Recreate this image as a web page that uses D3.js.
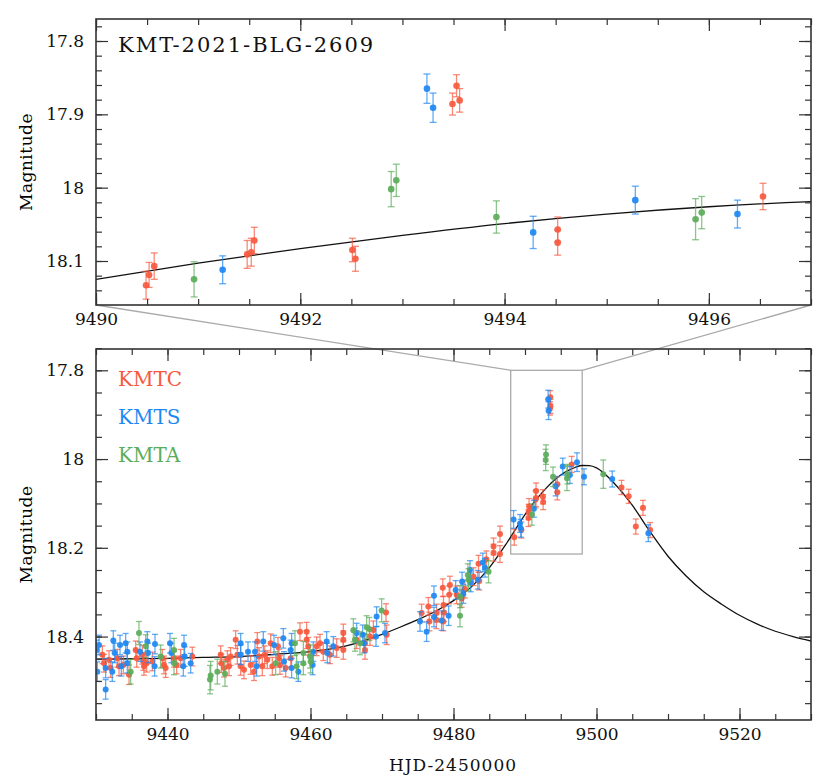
<!DOCTYPE html>
<html>
<head>
<meta charset="utf-8">
<script src="https://cdn.jsdelivr.net/npm/d3@7"></script>
<style>
  body { margin: 0; background: #fff; }
  text { font-family: "DejaVu Serif", "Liberation Serif", serif; }
</style>
</head>
<body>
<div id="chart"></div>
<script>
// data: [HJD-2450000, magnitude, error]
const kmtc = [
  [9430.89,18.441,.02],[9431.12,18.460,.02],[9431.82,18.452,.02],[9432.05,18.471,.021],[9432.98,18.449,.02],
  [9433.22,18.467,.021],[9433.82,18.464,.02],[9434.62,18.486,.022],[9435.55,18.430,.02],[9435.69,18.449,.02],
  [9436.48,18.441,.021],[9436.62,18.456,.02],[9436.71,18.467,.02],[9437.09,18.460,.02],[9437.88,18.456,.021],
  [9439.28,18.449,.02],[9439.51,18.464,.02],[9439.74,18.471,.021],[9440.91,18.449,.02],[9441.28,18.464,.02],
  [9441.84,18.449,.02],[9443.47,18.445,.021],[9447.44,18.441,.02],[9447.53,18.460,.021],[9447.90,18.471,.02],
  [9448.37,18.452,.02],[9448.60,18.467,.021],[9448.83,18.445,.02],[9449.53,18.407,.02],[9449.77,18.441,.021],
  [9450.23,18.467,.02],[9450.70,18.475,.02],[9451.63,18.464,.021],[9452.10,18.479,.02],[9452.56,18.411,.02],
  [9452.80,18.445,.02],[9453.26,18.467,.021],[9453.59,18.441,.02],[9453.96,18.452,.02],[9454.43,18.415,.021],
  [9454.66,18.467,.02],[9455.45,18.422,.02],[9455.59,18.449,.02],[9455.73,18.464,.021],[9456.53,18.471,.02],
  [9457.23,18.449,.02],[9458.53,18.389,.02],[9459.46,18.389,.021],[9459.46,18.407,.02],[9459.69,18.422,.02],
  [9460.86,18.422,.021],[9461.33,18.415,.02],[9461.79,18.434,.02],[9462.72,18.441,.02],[9463.66,18.426,.021],
  [9464.59,18.392,.02],[9464.59,18.407,.02],[9464.59,18.430,.021],[9466.45,18.407,.02],[9467.62,18.415,.02],
  [9467.62,18.430,.021],[9468.32,18.400,.02],[9468.79,18.385,.02],[9470.56,18.346,.02],[9470.65,18.396,.022],
  [9475.54,18.347,.02],[9476.48,18.332,.02],[9476.62,18.366,.021],[9477.64,18.347,.02],[9477.60,18.362,.02],
  [9478.50,18.290,.02],[9478.60,18.329,.02],[9478.67,18.346,.02],[9478.57,18.366,.021],[9479.40,18.306,.02],
  [9479.50,18.284,.02],[9480.44,18.306,.02],[9481.14,18.314,.02],[9481.60,18.293,.02],[9482.80,18.265,.02],
  [9483.50,18.236,.019],[9483.60,18.275,.02],[9484.60,18.226,.019],[9485.60,18.197,.019],[9485.60,18.211,.019],
  [9486.50,18.169,.018],[9486.50,18.214,.019],[9488.50,18.176,.018],[9489.50,18.160,.018],
  [9490.49,18.133,.019],[9490.52,18.119,.017],[9490.57,18.107,.018],[9491.48,18.091,.019],[9491.52,18.088,.019],
  [9491.55,18.072,.018],[9492.51,18.085,.016],[9492.54,18.097,.017],[9493.49,17.886,.015],[9493.53,17.861,.015],
  [9493.56,17.881,.016],[9494.52,18.057,.017],[9494.52,18.075,.017],[9496.53,18.012,.018],
  [9503.50,18.064,.016],[9504.50,18.084,.016],[9505.50,18.152,.017],[9506.50,18.110,.017],[9507.50,18.160,.017]
];

const kmts = [
  [9430.09,18.430,.022],[9430.42,18.419,.022],[9430.19,18.479,.022],[9431.35,18.471,.022],[9431.35,18.519,.022],
  [9432.42,18.409,.022],[9432.61,18.437,.022],[9432.28,18.479,.022],[9433.36,18.419,.022],[9433.54,18.467,.022],
  [9434.15,18.415,.022],[9434.38,18.434,.022],[9434.38,18.460,.022],[9436.15,18.434,.022],[9437.18,18.411,.022],
  [9437.27,18.437,.022],[9438.25,18.417,.022],[9438.20,18.467,.022],[9440.35,18.415,.022],[9440.54,18.437,.022],
  [9442.31,18.419,.022],[9442.21,18.467,.022],[9442.40,18.445,.022],[9443.24,18.460,.022],[9450.23,18.415,.022],
  [9450.23,18.441,.022],[9451.26,18.434,.022],[9452.24,18.434,.022],[9452.47,18.467,.022],[9453.40,18.411,.022],
  [9454.90,18.419,.022],[9456.20,18.404,.022],[9456.29,18.456,.022],[9457.23,18.430,.022],[9457.36,18.415,.022],
  [9457.36,18.471,.022],[9458.30,18.479,.022],[9460.30,18.464,.022],[9460.39,18.434,.022],[9462.26,18.411,.022],
  [9462.35,18.437,.022],[9463.19,18.422,.022],[9466.45,18.392,.022],[9467.29,18.396,.022],[9467.48,18.415,.022],
  [9469.25,18.355,.022],[9469.16,18.400,.022],[9470.42,18.392,.022],[9475.31,18.366,.022],[9476.24,18.389,.022],
  [9477.27,18.308,.022],[9477.27,18.356,.022],[9478.34,18.364,.022],[9479.32,18.353,.022],[9480.30,18.295,.021],
  [9481.20,18.276,.021],[9481.37,18.304,.021],[9482.30,18.250,.021],[9482.40,18.278,.021],[9483.40,18.272,.021],
  [9484.10,18.233,.021],[9484.40,18.245,.021],[9488.40,18.136,.02],[9489.30,18.145,.02],[9489.40,18.156,.02],
  [9491.24,18.112,.019],[9493.24,17.865,.020],[9493.30,17.891,.020],[9494.28,18.061,.022],[9495.28,18.017,.019],
  [9496.28,18.036,.019],[9497.27,18.007,.021],[9498.25,18.040,.018],[9502.20,18.045,.018],[9507.25,18.167,.019]
];

const kmta = [
  [9434.85,18.479,.028],[9436.01,18.392,.026],[9436.95,18.422,.026],[9439.04,18.445,.026],[9440.91,18.430,.026],
  [9440.91,18.460,.026],[9445.94,18.497,.032],[9446.04,18.488,.032],[9446.97,18.479,.028],[9448.04,18.484,.028],
  [9455.13,18.460,.026],[9457.83,18.415,.028],[9458.06,18.467,.028],[9459.00,18.437,.026],[9459.00,18.460,.026],
  [9459.93,18.445,.026],[9460.02,18.456,.026],[9465.99,18.386,.026],[9466.22,18.407,.026],[9466.92,18.415,.026],
  [9467.85,18.379,.026],[9468.23,18.383,.026],[9469.95,18.341,.026],[9480.91,18.310,.025],[9480.91,18.353,.025],
  [9482.00,18.261,.025],[9482.10,18.272,.025],[9484.90,18.254,.025],
  [9490.96,18.125,.024],[9492.89,18.002,.024],[9492.94,17.990,.022],[9493.92,18.040,.022],[9495.87,18.043,.028],
  [9495.93,18.034,.022],[9500.95,18.034,.032]
];

// model light curve
const modelT = [9430,9435,9440,9445,9450,9455,9460,9465,9470,9472.5,9475,9477.5,9480,9482.5,9485,9487.5,
  9490,9491,9492,9493,9494,9495,9496,9497,9498,9499,9500,9502.5,9505,9507.5,9510,9512.5,9515,9517.5,
  9520,9522.5,9525,9527.5,9530];
const modelMag = [18.451,18.450,18.449,18.447,18.445,18.440,18.434,18.421,18.395,18.379,18.362,18.343,18.319,18.288,18.245,18.188,
  18.125,18.103,18.083,18.065,18.049,18.036,18.026,18.019,18.0145,18.015,18.020,18.055,18.104,18.164,18.219,18.263,18.299,18.327,
  18.352,18.372,18.388,18.400,18.410];

const series = [
  {name: "KMTC", data: kmtc, color: "#F7593E"},
  {name: "KMTS", data: kmts, color: "#1E88F2"},
  {name: "KMTA", data: kmta, color: "#5BAD5B"}
];

const zoomBox = {t0: 9488, t1: 9498, m0: 17.8, m1: 18.214};

const svg = d3.select("#chart").append("svg")
  .attr("width", 830)
  .attr("height", 780);

const model = modelT.map((t, i) => [t, modelMag[i]]);

function panel(id, x, y, opt) {
  const [x0, x1] = x.range();
  const [y0, y1] = y.range();
  const g = svg.append("g");

  g.append("clipPath").attr("id", id)
    .append("rect").attr("x", x0).attr("y", y0).attr("width", x1 - x0).attr("height", y1 - y0);

  const plot = g.append("g").attr("clip-path", `url(#${id})`);

  // model curve
  plot.append("path")
    .datum(model)
    .attr("fill", "none")
    .attr("stroke", "#111")
    .attr("stroke-width", 1.3)
    .attr("d", d3.line().x(d => x(d[0])).y(d => y(d[1])).curve(d3.curveMonotoneX));

  series.forEach(s => {
    const pts = plot.append("g").selectAll("g")
      .data(s.data)
      .join("g");
    pts.append("line")
      .attr("x1", d => x(d[0])).attr("x2", d => x(d[0]))
      .attr("y1", d => y(d[1] - d[2])).attr("y2", d => y(d[1] + d[2]))
      .attr("stroke", s.color).attr("stroke-width", 1.3).attr("stroke-opacity", 0.7);
    [-1, 1].forEach(k => {
      pts.append("line")
        .attr("x1", d => x(d[0]) - opt.cap).attr("x2", d => x(d[0]) + opt.cap)
        .attr("y1", d => y(d[1] + k * d[2])).attr("y2", d => y(d[1] + k * d[2]))
        .attr("stroke", s.color).attr("stroke-width", 1.3).attr("stroke-opacity", 0.7);
    });
    pts.append("circle")
      .attr("cx", d => x(d[0])).attr("cy", d => y(d[1]))
      .attr("r", opt.r)
      .attr("fill", s.color).attr("fill-opacity", 0.92);
  });

  // axes, ticks inside
  const xMinor = d3.range(x.domain()[0], x.domain()[1] + 1e-6, opt.xMinor);
  const yMinor = d3.range(opt.yStart, y.domain()[1], opt.yMinorStep);
  const fmtY = d => String(+d.toFixed(1));

  const axes = [
    [d3.axisBottom(x).tickValues(opt.xMajor).tickSize(-12).tickPadding(8).tickFormat(d3.format("d")), `translate(0,${y1})`],
    [d3.axisBottom(x).tickValues(xMinor).tickSize(-6).tickFormat(""), `translate(0,${y1})`],
    [d3.axisTop(x).tickValues(opt.xMajor).tickSize(-12).tickFormat(""), `translate(0,${y0})`],
    [d3.axisTop(x).tickValues(xMinor).tickSize(-6).tickFormat(""), `translate(0,${y0})`],
    [d3.axisLeft(y).tickValues(opt.yMajor).tickSize(-12).tickPadding(12).tickFormat(fmtY), `translate(${x0},0)`],
    [d3.axisLeft(y).tickValues(yMinor).tickSize(-6).tickFormat(""), `translate(${x0},0)`],
    [d3.axisRight(y).tickValues(opt.yMajor).tickSize(-12).tickFormat(""), `translate(${x1},0)`],
    [d3.axisRight(y).tickValues(yMinor).tickSize(-6).tickFormat(""), `translate(${x1},0)`]
  ];
  axes.forEach(([ax, tr]) => {
    const a = g.append("g").attr("transform", tr).call(ax);
    a.select(".domain").remove();
    a.selectAll("line").attr("stroke", "#333").attr("stroke-width", 1.2);
    a.selectAll("text").attr("font-size", 17).attr("fill", "#111")
      .style("font-family", "'DejaVu Serif', serif");
  });

  g.append("rect")
    .attr("x", x0).attr("y", y0).attr("width", x1 - x0).attr("height", y1 - y0)
    .attr("fill", "none").attr("stroke", "#333").attr("stroke-width", 1.6);

  g.append("text")
    .attr("transform", `translate(27,${(y0 + y1) / 2}) rotate(-90)`)
    .attr("text-anchor", "middle")
    .attr("dominant-baseline", "middle")
    .attr("font-size", 17)
    .attr("letter-spacing", 0.5)
    .text("Magnitude");

  return g;
}

// scales
const xTop = d3.scaleLinear().domain([9490, 9497]).range([96, 811]);
const yTop = d3.scaleLinear().domain([17.77, 18.16]).range([19, 305]);
const xBot = d3.scaleLinear().domain([9430, 9530]).range([96, 811]);
const yBot = d3.scaleLinear().domain([17.752, 18.588]).range([349, 720]);

// zoom connectors (behind panels)
const conn = svg.append("g").attr("stroke", "#aaa").attr("stroke-width", 1.3).attr("fill", "none");
conn.append("line")
  .attr("x1", xTop.range()[0]).attr("y1", yTop.range()[1])
  .attr("x2", xBot(zoomBox.t0)).attr("y2", yBot(zoomBox.m0));
conn.append("line")
  .attr("x1", xTop.range()[1]).attr("y1", yTop.range()[1])
  .attr("x2", xBot(zoomBox.t1)).attr("y2", yBot(zoomBox.m0));
conn.append("rect")
  .attr("x", xBot(zoomBox.t0)).attr("y", yBot(zoomBox.m0))
  .attr("width", xBot(zoomBox.t1) - xBot(zoomBox.t0))
  .attr("height", yBot(zoomBox.m1) - yBot(zoomBox.m0));

panel("clipTop", xTop, yTop, {
  xMajor: [9490, 9492, 9494, 9496], xMinor: 0.5,
  yMajor: [17.8, 17.9, 18, 18.1], yStart: 17.78, yMinorStep: 0.02,
  cap: 3.5, r: 3.3
});

panel("clipBot", xBot, yBot, {
  xMajor: [9440, 9460, 9480, 9500, 9520], xMinor: 5,
  yMajor: [17.8, 18, 18.2, 18.4], yStart: 17.75, yMinorStep: 0.05,
  cap: 3, r: 3
});

// title
svg.append("text")
  .attr("x", 118).attr("y", 52)
  .attr("font-size", 21)
  .attr("letter-spacing", 2)
  .attr("fill", "#111")
  .text("KMT-2021-BLG-2609");

// legend
series.forEach((s, i) => {
  svg.append("text")
    .attr("x", 118).attr("y", 386 + i * 38)
    .attr("font-size", 20)
    .attr("fill", s.color)
    .text(s.name);
});

// x label
svg.append("text")
  .attr("x", 453).attr("y", 771)
  .attr("text-anchor", "middle")
  .attr("font-size", 17)
  .attr("letter-spacing", 1)
  .attr("fill", "#111")
  .text("HJD-2450000");
</script>
</body>
</html>
